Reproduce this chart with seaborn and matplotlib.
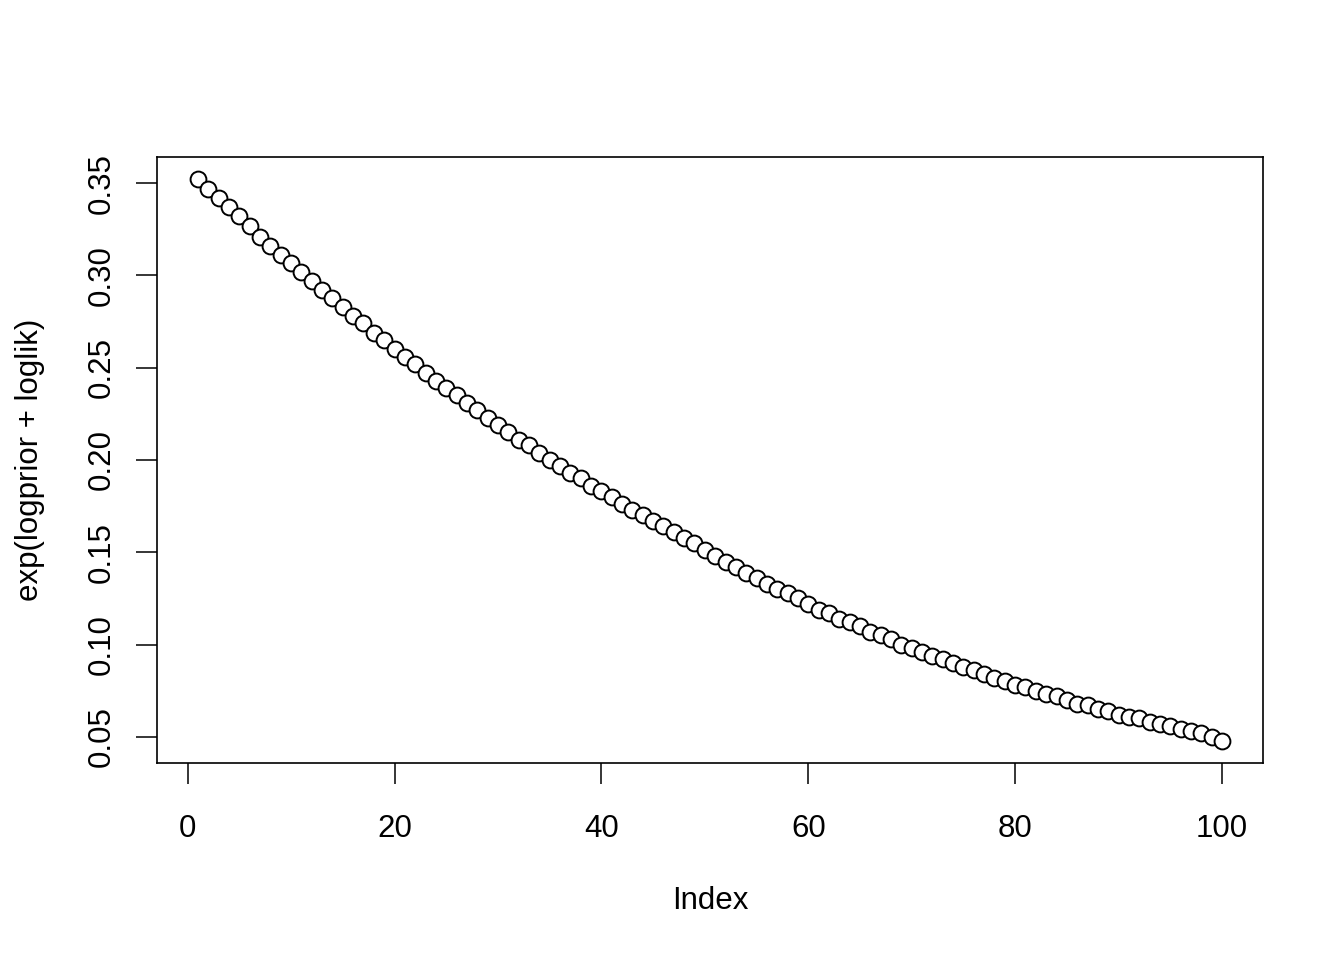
import numpy as np
import pandas as pd
import matplotlib
matplotlib.use('Agg')
import matplotlib.pyplot as plt
import seaborn as sns

# values, index 1..100
index = list(range(1, 101))
posterior = [
    0.352, 0.347, 0.342, 0.337, 0.332, 0.327, 0.321, 0.316, 0.311, 0.307,
    0.302, 0.297, 0.292, 0.288, 0.283, 0.278, 0.274, 0.269, 0.265, 0.260,
    0.256, 0.252, 0.247, 0.243, 0.239, 0.235, 0.231, 0.227, 0.223, 0.219,
    0.215, 0.211, 0.208, 0.204, 0.200, 0.197, 0.193, 0.190, 0.186, 0.183,
    0.180, 0.176, 0.173, 0.170, 0.167, 0.164, 0.161, 0.158, 0.155, 0.151,
    0.148, 0.145, 0.142, 0.139, 0.136, 0.133, 0.130, 0.128, 0.125, 0.122,
    0.119, 0.117, 0.114, 0.112, 0.110, 0.107, 0.105, 0.103, 0.100, 0.098,
    0.096, 0.094, 0.092, 0.090, 0.088, 0.086, 0.084, 0.082, 0.080, 0.078,
    0.077, 0.075, 0.073, 0.072, 0.070, 0.068, 0.067, 0.065, 0.064, 0.062,
    0.061, 0.060, 0.058, 0.057, 0.056, 0.054, 0.053, 0.052, 0.050, 0.048,
]
x_ticks = [0, 20, 40, 60, 80, 100]
y_ticks = [0.05, 0.10, 0.15, 0.20, 0.25, 0.30, 0.35]

df = pd.DataFrame({'Index': index, 'value': posterior})

sns.set_style('ticks')
plt.rcParams['font.family'] = ['Liberation Sans', 'DejaVu Sans']

fig = plt.figure(figsize=(13.44, 9.6), dpi=100)
ax = fig.add_axes([157 / 1344, 1 - 763 / 960, (1263 - 157) / 1344, (763 - 157) / 960])

sns.scatterplot(data=df, x='Index', y='value', ax=ax, marker='o', s=130,
                facecolor='white', edgecolor='black', linewidth=1.4)

# R style 4% padding
xr = max(index) - min(index)
yr = max(posterior) - min(posterior)
ax.set_xlim(min(index) - 0.04 * xr, max(index) + 0.04 * xr)
ax.set_ylim(min(posterior) - 0.04 * yr, max(posterior) + 0.04 * yr)

ax.set_xticks(x_ticks)
ax.set_xticklabels([str(t) for t in x_ticks])
ax.set_yticks(y_ticks)
ax.set_yticklabels([f'{t:.2f}' for t in y_ticks], rotation=90, va='center')

ax.tick_params(axis='both', direction='out', length=15, width=1.1, labelsize=22.5,
               color='black', labelcolor='black')
ax.tick_params(axis='x', pad=22)
ax.tick_params(axis='y', pad=14)

for sp in ax.spines.values():
    sp.set_visible(True)
    sp.set_color('black')
    sp.set_linewidth(1.2)

ax.set_xlabel('Index', fontsize=22.5, color='black', labelpad=30)
ax.set_ylabel('exp(logprior + loglik)', fontsize=22.5, color='black', labelpad=30)
ax.grid(False)

fig.savefig('out.png', dpi=100)
